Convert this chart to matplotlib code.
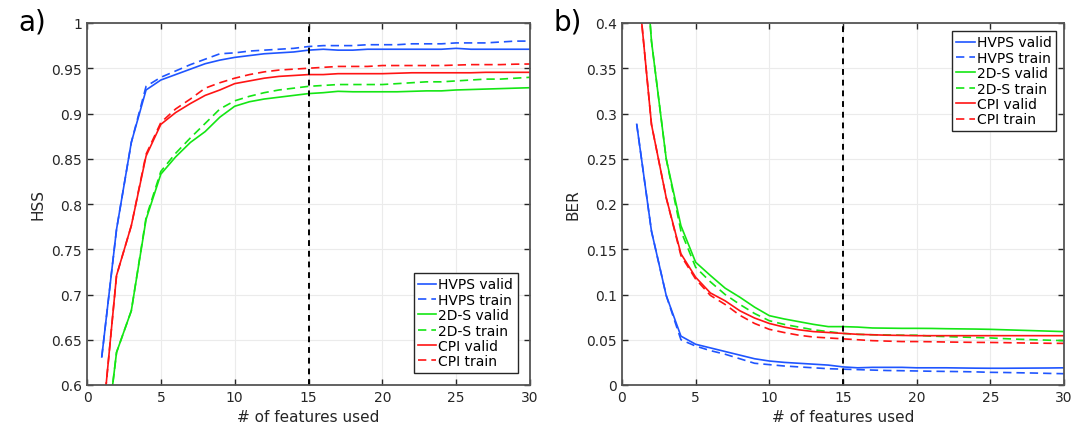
#! /usr/bin/env python
#
# HSS and BER vs number of features used, for each probe (valid / train)

import numpy             as np
import matplotlib
matplotlib.use("Agg")
import matplotlib.pyplot as plt
from matplotlib.ticker import FuncFormatter

n_feat = np.arange(1, 31)

# HSS curves (panel a)
hss_hvps_valid = [0.631, 0.772, 0.868, 0.926, 0.937, 0.943, 0.949, 0.955, 0.959, 0.962,
                  0.964, 0.966, 0.967, 0.968, 0.970, 0.971, 0.970, 0.970, 0.971, 0.971,
                  0.971, 0.971, 0.971, 0.971, 0.972, 0.971, 0.971, 0.971, 0.971, 0.971]
hss_hvps_train = [0.631, 0.772, 0.868, 0.930, 0.940, 0.947, 0.954, 0.960, 0.966, 0.967,
                  0.969, 0.970, 0.971, 0.972, 0.974, 0.975, 0.975, 0.975, 0.976, 0.976,
                  0.976, 0.977, 0.977, 0.977, 0.978, 0.978, 0.978, 0.979, 0.980, 0.980]
hss_2ds_valid  = [0.50, 0.636, 0.682, 0.783, 0.833, 0.852, 0.868, 0.880, 0.896, 0.908,
                  0.913, 0.916, 0.918, 0.920, 0.922, 0.923, 0.9245, 0.924, 0.924, 0.924,
                  0.924, 0.9245, 0.925, 0.925, 0.926, 0.9265, 0.927, 0.9275, 0.928, 0.9285]
hss_2ds_train  = [0.50, 0.636, 0.682, 0.785, 0.836, 0.856, 0.873, 0.889, 0.905, 0.914,
                  0.919, 0.923, 0.926, 0.928, 0.930, 0.931, 0.932, 0.932, 0.932, 0.932,
                  0.933, 0.934, 0.935, 0.935, 0.936, 0.937, 0.938, 0.938, 0.939, 0.940]
hss_cpi_valid  = [0.55, 0.721, 0.776, 0.853, 0.888, 0.901, 0.911, 0.920, 0.926, 0.933,
                  0.936, 0.939, 0.941, 0.942, 0.943, 0.943, 0.944, 0.944, 0.944, 0.944,
                  0.9445, 0.945, 0.945, 0.945, 0.945, 0.945, 0.9455, 0.9455, 0.9455, 0.9455]
hss_cpi_train  = [0.55, 0.721, 0.776, 0.855, 0.890, 0.905, 0.916, 0.928, 0.934, 0.939,
                  0.943, 0.946, 0.948, 0.949, 0.950, 0.951, 0.952, 0.952, 0.952, 0.953,
                  0.953, 0.953, 0.953, 0.953, 0.9535, 0.954, 0.954, 0.954, 0.9545, 0.9547]

# BER curves (panel b)
ber_hvps_valid = [0.288, 0.170, 0.099, 0.054, 0.045, 0.041, 0.037, 0.033, 0.029, 0.0265,
                  0.025, 0.024, 0.023, 0.022, 0.020, 0.019, 0.0195, 0.0195, 0.0195, 0.019,
                  0.019, 0.019, 0.0188, 0.0186, 0.0185, 0.0185, 0.0186, 0.0187, 0.0188, 0.019]
ber_hvps_train = [0.288, 0.170, 0.099, 0.050, 0.043, 0.038, 0.034, 0.029, 0.024, 0.0225,
                  0.021, 0.020, 0.019, 0.018, 0.0175, 0.017, 0.0165, 0.016, 0.0158, 0.0155,
                  0.0152, 0.015, 0.0148, 0.0145, 0.014, 0.0138, 0.0135, 0.0132, 0.0128, 0.0125]
ber_2ds_valid  = [0.60, 0.38, 0.250, 0.176, 0.1356, 0.121, 0.107, 0.097, 0.086, 0.0766,
                  0.073, 0.070, 0.067, 0.0645, 0.0645, 0.064, 0.063, 0.0628, 0.0626, 0.0626,
                  0.0625, 0.0622, 0.062, 0.0618, 0.0615, 0.061, 0.0605, 0.060, 0.0595, 0.059]
ber_2ds_train  = [0.60, 0.38, 0.250, 0.170, 0.130, 0.114, 0.100, 0.089, 0.079, 0.071,
                  0.067, 0.064, 0.061, 0.059, 0.057, 0.056, 0.0555, 0.0553, 0.055, 0.055,
                  0.054, 0.0535, 0.053, 0.0525, 0.052, 0.0512, 0.0505, 0.050, 0.0495, 0.049]
ber_cpi_valid  = [0.458, 0.288, 0.207, 0.145, 0.119, 0.1017, 0.093, 0.082, 0.074, 0.068,
                  0.064, 0.061, 0.059, 0.058, 0.057, 0.056, 0.0555, 0.055, 0.0548, 0.0545,
                  0.0545, 0.0545, 0.0545, 0.0545, 0.0545, 0.0545, 0.0545, 0.0545, 0.0545, 0.0545]
ber_cpi_train  = [0.458, 0.288, 0.207, 0.143, 0.117, 0.099, 0.089, 0.077, 0.068, 0.0615,
                  0.058, 0.055, 0.053, 0.052, 0.051, 0.050, 0.049, 0.0485, 0.048, 0.048,
                  0.0478, 0.0475, 0.0473, 0.0471, 0.047, 0.0468, 0.0465, 0.0463, 0.0461, 0.046]

blue  = "#1f55ff"
green = "#14e614"
red   = "#ff1414"

labels = ["HVPS valid", "HVPS train", "2D-S valid", "2D-S train", "CPI valid", "CPI train"]

def fmt(v, pos):
    s = "%.2f" % v
    s = s.rstrip("0").rstrip(".")
    return s

def style_axes(ax):
    ax.set_xlim(0, 30)
    ax.set_xticks(np.arange(0, 31, 5))
    ax.grid(True, color="#ebebeb", linewidth=0.8)
    ax.set_axisbelow(True)
    ax.tick_params(direction="in", top=True, right=True, length=4,
                   labelsize=10, colors="#262626", width=1.0)
    for sp in ax.spines.values():
        sp.set_color("#555555")
        sp.set_linewidth(1.3)
    ax.yaxis.set_major_formatter(FuncFormatter(fmt))
    ax.set_xlabel("# of features used", fontsize=11, color="#262626")
    ax.axvline(15, color="black", linestyle=(0, (3, 2.5)), linewidth=1.4)

fig = plt.figure(figsize=(10.86, 4.35), dpi=100)
ax1 = fig.add_axes([87 / 1086, 1 - 386 / 435, 443 / 1086, 362 / 435])
ax2 = fig.add_axes([622 / 1086, 1 - 386 / 435, 442 / 1086, 362 / 435])

series_a = [hss_hvps_valid, hss_hvps_train, hss_2ds_valid, hss_2ds_train, hss_cpi_valid, hss_cpi_train]
series_b = [ber_hvps_valid, ber_hvps_train, ber_2ds_valid, ber_2ds_train, ber_cpi_valid, ber_cpi_train]
colors = [blue, blue, green, green, red, red]
styles = ["-", (0, (5, 3)), "-", (0, (5, 3)), "-", (0, (5, 3))]

for ax, series in [(ax1, series_a), (ax2, series_b)]:
    for y, c, ls, lab in zip(series, colors, styles, labels):
        ax.plot(n_feat, y, color=c, linestyle=ls, linewidth=1.2, label=lab)
    style_axes(ax)

ax1.set_ylim(0.6, 1.0)
ax1.set_yticks(np.arange(0.6, 1.0001, 0.05))
ax1.set_ylabel("HSS", fontsize=11, color="#262626")
ax2.set_ylim(0, 0.4)
ax2.set_yticks(np.arange(0, 0.4001, 0.05))
ax2.set_ylabel("BER", fontsize=11, color="#262626")

for ax, loc, pad in [(ax1, "lower right", 0.9), (ax2, "upper right", 0.6)]:
    leg = ax.legend(loc=loc, fontsize=10, handlelength=1.3, handletextpad=0.15,
                    labelspacing=0.1, borderpad=0.3, borderaxespad=pad,
                    fancybox=False, framealpha=1, edgecolor="#262626")
    leg.get_frame().set_linewidth(1.0)

fig.text(18 / 1086, 1 - 22 / 435, "a)", fontsize=20, va="center", ha="left")
fig.text(553 / 1086, 1 - 22 / 435, "b)", fontsize=20, va="center", ha="left")

plt.savefig("out.png", dpi=100)
plt.close()
